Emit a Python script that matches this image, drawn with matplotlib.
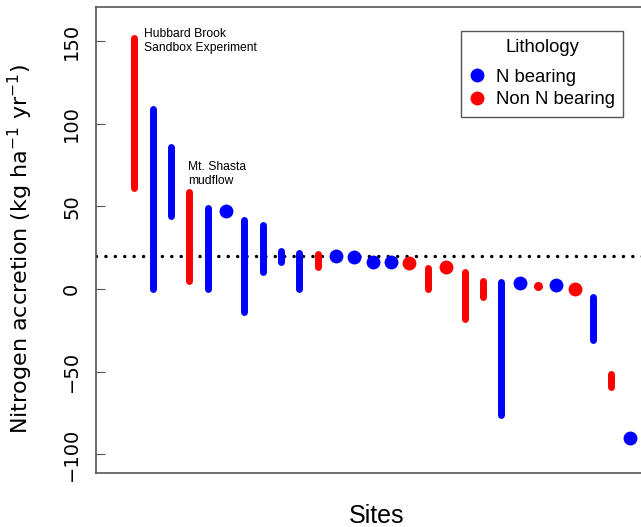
import matplotlib
matplotlib.use("Agg")
from matplotlib import pyplot as plt
from matplotlib.lines import Line2D

plt.rcParams['font.family'] = ['Liberation Sans', 'DejaVu Sans']

# site order, lithology and accretion range (low == high means a single estimate)
sites = list(range(1, 29))
lithology = ["non", "n", "n", "non", "n", "n", "n", "n", "n", "n",
             "non", "n", "n", "n", "n", "non", "non", "non", "non", "non",
             "n", "n", "non", "n", "non", "n", "non", "n"]
n_low = [61, 0, 44, 5, 0, 47.5, -14, 10.5, 16.5, 0,
         13.5, 20, 19.6, 16.6, 16.6, 15.5, 0, 13.5, -18, -5,
         -76, 3.4, 2, 2.4, -0.2, -31, -59.5, -90.4]
n_high = [152, 109, 86, 59, 49, 47.5, 42, 39, 23, 22,
          21, 20, 19.6, 16.6, 16.6, 15.5, 12.5, 13.5, 10.5, 5,
          4, 3.4, 2, 2.4, -0.2, -5, -51.5, -90.4]
reference_rate = 20
y_ticks = [-100, -50, 0, 50, 100, 150]

COLORS = {"n": "#0000ff", "non": "#ff0000"}
SMALL_POINTS = {23}
VERTICAL_FONT = ["DejaVu Sans"]

fig = plt.figure(figsize=(6.41, 5.27), dpi=100)
ax = fig.add_axes([0.1493, 0.103, 0.876, 0.883])

ax.axhline(reference_rate, color="black", linestyle=(0, (0.01, 2.7)),
           linewidth=2.5, dash_capstyle="round", zorder=1)

for site, lith, lo, hi in zip(sites, lithology, n_low, n_high):
    col = COLORS[lith]
    if lo == hi:
        ms = 6.5 if site in SMALL_POINTS else 10
        ax.plot(site, lo, "o", color=col, markersize=ms, markeredgewidth=0, zorder=3)
    else:
        ax.plot([site, site], [lo, hi], color=col, linewidth=5,
                solid_capstyle="round", zorder=2)

ax.text(1.53, 158, "Hubbard Brook\nSandbox Experiment", fontsize=8.7,
        ha="left", va="top", linespacing=1.25)
ax.text(3.94, 77.5, "Mt. Shasta\nmudflow", fontsize=8.7,
        ha="left", va="top", linespacing=1.25)

ax.set_xlim(-1.1, 29.5)
ax.set_ylim(-111.2, 170.5)
ax.set_xticks([])
ax.set_yticks(y_ticks)
ax.tick_params(axis="y", direction="in", length=6.5, width=0.8, color="#555555",
               labelsize=14, pad=10.5)
for lab in ax.get_yticklabels():
    lab.set_rotation(90)
    lab.set_va("center")
    lab.set_family(VERTICAL_FONT)

for side in ["left", "bottom", "top"]:
    ax.spines[side].set_color("#555555")
    ax.spines[side].set_linewidth(1.2)
ax.spines["right"].set_visible(False)

ax.set_ylabel(r"Nitrogen accretion (kg ha$^{-1}$ yr$^{-1}$)", fontsize=16,
              family=VERTICAL_FONT)
ax.yaxis.set_label_coords(-0.108, 0.48)
ax.set_xlabel("Sites", fontsize=18)
ax.xaxis.set_label_coords(0.5, -0.067)

handles = [Line2D([], [], marker="o", linestyle="none", color=COLORS["n"],
                  markersize=10, markeredgewidth=0, label="N bearing"),
           Line2D([], [], marker="o", linestyle="none", color=COLORS["non"],
                  markersize=10, markeredgewidth=0, label="Non N bearing")]
leg = ax.legend(handles=handles, title="Lithology", loc="upper left",
                bbox_to_anchor=(0.6506, 0.949), fontsize=13.3, title_fontsize=13.3,
                fancybox=False, framealpha=1, edgecolor="#555555",
                handletextpad=0.63, handlelength=0.8, borderpad=0.45,
                labelspacing=0.3, borderaxespad=0)
leg.get_frame().set_linewidth(1.0)
# a bit more room between the title and the entries
leg._legend_box.sep = 9

fig.savefig("out.png", dpi=100)
